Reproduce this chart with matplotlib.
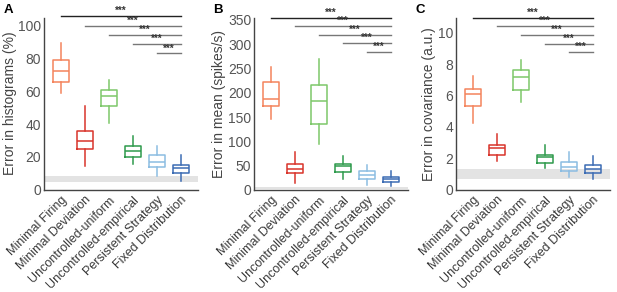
import matplotlib.pyplot as plt

plt.rcParams['font.family'] = ['Liberation Sans', 'DejaVu Sans']

models = ['Minimal Firing', 'Minimal Deviation', 'Uncontrolled-uniform',
          'Uncontrolled-empirical', 'Persistent Strategy', 'Fixed Distribution']
colors = ['#f4845c', '#d9342b', '#7dc86a', '#2e9a4c', '#8cbde2', '#3c6cb4']

# box stats per model: whisker low, q1, median, q3, whisker high
hist_stats = [[59, 65.7, 72, 79, 89],
              [14.6, 24.7, 29.8, 35.7, 51],
              [40.6, 51, 57, 61, 67],
              [15.4, 20, 23.3, 26.6, 33],
              [8.3, 13.6, 17, 21, 26.4],
              [5.5, 10.5, 13.2, 15.2, 21.3]]
mean_stats = [[146, 172, 186.5, 222, 254],
              [13, 34, 43.8, 53.6, 78.6],
              [95, 135, 182, 216, 269],
              [21.6, 37.6, 49.4, 53.6, 70],
              [10.4, 23, 30, 39.7, 51.5],
              [8.4, 16.7, 22, 27, 39.7]]
cov_stats = [[4.25, 5.35, 6.07, 6.43, 7.26],
             [1.85, 2.23, 2.63, 2.87, 3.52],
             [5.58, 6.35, 7.2, 7.64, 8.24],
             [1.38, 1.7, 2.06, 2.23, 2.87],
             [0.79, 1.19, 1.42, 1.78, 2.42],
             [0.66, 1.06, 1.34, 1.59, 2.17]]

# grey reference band (low, high)
hist_band = (4.7, 8.3)
mean_band = (1.5, 6.0)
cov_band = (0.66, 1.34)

# heights of significance bars
hist_sig = [106, 99.5, 94, 88.6, 83]
mean_sig = [355, 337, 319, 302, 284]
cov_sig = [10.96, 10.4, 9.85, 9.3, 8.75]

panels = [
    ('A', 'Error in histograms (%)', hist_stats, hist_band, hist_sig, 104.8, [0, 20, 40, 60, 80, 100], 0.0713),
    ('B', 'Error in mean (spikes/s)', mean_stats, mean_band, mean_sig, 355, [0, 50, 100, 150, 200, 250, 300, 350], 0.4117),
    ('C', 'Error in covariance (a.u.)', cov_stats, cov_band, cov_sig, 10.96, [0, 2, 4, 6, 8, 10], 0.739),
]

fig = plt.figure(figsize=(6.17, 2.92), dpi=100)

for letter, ylabel, stats, band, sig, ytop, yticks, left in panels:
    ax = fig.add_axes([left, 0.35, 0.249, 0.59])
    bxp = []
    for s in stats:
        bxp.append({'whislo': s[0], 'q1': s[1], 'med': s[2], 'q3': s[3],
                    'whishi': s[4], 'fliers': []})
    ax.axhspan(band[0], band[1], color='#e3e3e3', lw=0, zorder=0)
    res = ax.bxp(bxp, positions=range(6), widths=0.65, showcaps=False,
                 showfliers=False, patch_artist=False)
    for i, c in enumerate(colors):
        res['boxes'][i].set(color=c, lw=1.1)
        res['medians'][i].set(color=c, lw=1.1)
        res['whiskers'][2 * i].set(color=c, lw=1.1)
        res['whiskers'][2 * i + 1].set(color=c, lw=1.1)

    for i, h in enumerate(sig):
        col = '#222222' if i == 0 else '#777777'
        ax.plot([i, 5], [h, h], color=col, lw=1.0, clip_on=False)
        ax.text((i + 5) / 2, h, '***', ha='center', va='bottom',
                fontsize=7, color='#333333', fontweight='bold')

    ax.set_xlim(-0.72, 5.7)
    ax.set_ylim(0, ytop)
    ax.set_yticks(yticks)
    ax.set_xticks(range(6))
    ax.set_xticklabels(models, rotation=45, ha='right', rotation_mode='anchor',
                       fontsize=9, color='#3a3a3a')
    ax.tick_params(axis='y', length=0, labelsize=10, colors='#555555', pad=2)
    ax.tick_params(axis='x', length=0, pad=3)
    ax.set_ylabel(ylabel, fontsize=10, color='#444444', labelpad=1)
    for sp in ['top', 'right']:
        ax.spines[sp].set_visible(False)
    for sp in ['left', 'bottom']:
        ax.spines[sp].set_color('#444444')
        ax.spines[sp].set_linewidth(1.0)

    fig.text(left - 0.066, 0.985, letter, fontsize=9.5, fontweight='bold',
             ha='left', va='top')

fig.savefig('out.png', dpi=100)
